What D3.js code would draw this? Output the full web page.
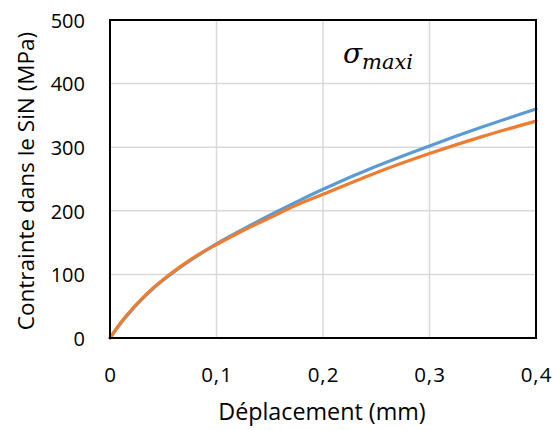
<!DOCTYPE html>
<html><head><meta charset="utf-8">
<script src="https://cdn.jsdelivr.net/npm/d3@7"></script>
<style>body{margin:0;background:#fff}svg{display:block}</style>
</head><body>
<svg id="c" width="556" height="430"></svg>
<script>
const xValues = [0,0.01,0.02,0.03,0.04,0.05,0.06,0.08,0.1,0.125,0.15,0.175,0.2,0.25,0.3,0.35,0.4];
const blueValues = [0,23,43,61,77,91,104,127,148,171,193,214,234,270,302,332,360];
const orangeValues = [0,24,44,62,78,92,105,128,147,169,189,209,226,260,290,317,341];
const xTicks = [0,0.1,0.2,0.3,0.4];
const yTicks = [0,100,200,300,400,500];
const xTitle = "Déplacement (mm)";
const yTitle = "Contrainte dans le SiN (MPa)";

const svg = d3.select("#c");
const L=110,R=536,T=20,B=338;
const x = d3.scaleLinear().domain([0,0.4]).range([L,R]);
const y = d3.scaleLinear().domain([0,500]).range([B,T]);
const font = "Open Sans, sans-serif";

// grid
svg.append("g").selectAll("line").data(xTicks.slice(1)).join("line")
  .attr("x1",d=>x(d)).attr("x2",d=>x(d)).attr("y1",T).attr("y2",B)
  .attr("stroke","#d9d9d9").attr("stroke-width",1.5);
svg.append("g").selectAll("line").data(yTicks.slice(1)).join("line")
  .attr("y1",d=>y(d)).attr("y2",d=>y(d)).attr("x1",L).attr("x2",R)
  .attr("stroke","#d9d9d9").attr("stroke-width",1.5);

// axes via d3
const fmt = d => d === 0 ? "0" : d3.format(".1f")(d).replace(".",",");
const xAxis = svg.append("g").attr("transform",`translate(0,${B})`)
  .call(d3.axisBottom(x).tickValues(xTicks).tickSize(0).tickPadding(0).tickFormat(fmt));
xAxis.select(".domain").remove();
xAxis.selectAll("text").attr("y",44).attr("dy",0).attr("font-family",font).attr("font-size",20.5).attr("letter-spacing",1).attr("fill","#000");
const yAxis = svg.append("g").attr("transform",`translate(${L},0)`)
  .call(d3.axisLeft(y).tickValues(yTicks).tickSize(0).tickFormat(d3.format("d")));
yAxis.select(".domain").remove();
yAxis.selectAll("text").attr("x",-25).attr("dy","0.36em").attr("font-family",font).attr("font-size",20).attr("fill","#000");

// lines
const line = d3.line().x((d,i)=>x(xValues[i])).y(d=>y(d)).curve(d3.curveCatmullRom);
svg.append("path").datum(blueValues).attr("d",line).attr("fill","none")
  .attr("stroke","#5b9bd5").attr("stroke-width",3.2).attr("stroke-linecap","round");
svg.append("path").datum(orangeValues).attr("d",line).attr("fill","none")
  .attr("stroke","#ed7d31").attr("stroke-width",3.2).attr("stroke-linecap","round");

// frame
svg.append("rect").attr("x",L).attr("y",T).attr("width",R-L).attr("height",B-T)
  .attr("fill","none").attr("stroke","#000").attr("stroke-width",2);

// titles
svg.append("text").attr("x",(L+R)/2-1).attr("y",420).attr("text-anchor","middle")
  .attr("font-family",font).attr("font-size",23.3).text(xTitle);
svg.append("text").attr("transform",`translate(34,${(T+B)/2+2}) rotate(-90)`).attr("text-anchor","middle")
  .attr("font-family",font).attr("font-size",22.5).text(yTitle);

// annotation
const ann = svg.append("text").attr("font-family","DejaVu Serif, serif").attr("font-style","italic");
ann.append("tspan").attr("x",343).attr("y",63).attr("font-size",28).text("σ");
ann.append("tspan").attr("x",362).attr("y",69).attr("font-size",21).text("maxi");
</script>
</body></html>
